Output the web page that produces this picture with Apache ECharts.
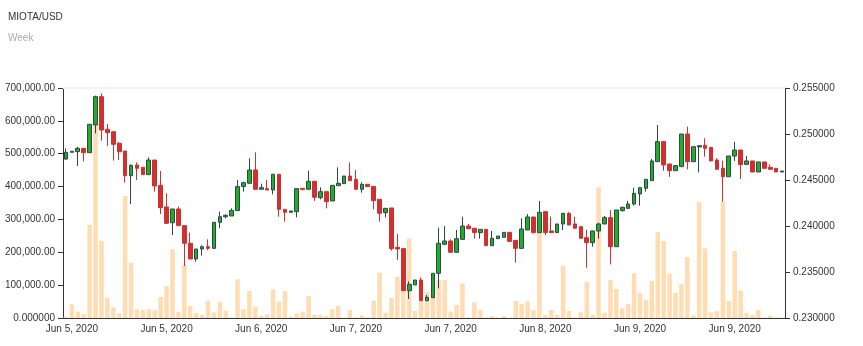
<!DOCTYPE html>
<html>
<head>
<meta charset="utf-8">
<script src="https://cdn.jsdelivr.net/npm/echarts@6/dist/echarts.min.js"></script>
<style>
  html, body { margin: 0; padding: 0; background: #fff; }
  #chart { width: 863px; height: 346px; }
</style>
</head>
<body>
<div id="chart"></div>
<script>
// Hourly MIOTA/USD candles, starting 5 June 2020 00:00 UTC
const startTimeUtc = Date.UTC(2020, 5, 5, 0, 0);
const hourMs = 3600 * 1000;

const openPrices = [
  0.24728, 0.24801, 0.24808, 0.24844, 0.24797, 0.25098, 0.25406, 0.25051, 0.25025, 0.24899,
  0.24815, 0.24547, 0.24663, 0.24638, 0.24558, 0.24717, 0.24442, 0.24207, 0.24036, 0.24185,
  0.24004, 0.23812, 0.23641, 0.23750, 0.23775, 0.23757, 0.24040, 0.24101, 0.24109, 0.24167,
  0.24428, 0.24464, 0.24609, 0.24399, 0.24406, 0.24391, 0.24562, 0.24181, 0.24149, 0.24156,
  0.24409, 0.24399, 0.24486, 0.24308, 0.24373, 0.24272, 0.24438, 0.24460, 0.24543, 0.24507,
  0.24399, 0.24453, 0.24431, 0.24290, 0.24145, 0.24196, 0.23768, 0.23754, 0.23297, 0.23359,
  0.23413, 0.23188, 0.23221, 0.23486, 0.23801, 0.23837, 0.23714, 0.23855, 0.24000, 0.23975,
  0.23928, 0.23964, 0.23786, 0.23862, 0.23877, 0.23931, 0.23844, 0.23757, 0.23957, 0.24098,
  0.23928, 0.24156, 0.23946, 0.23928, 0.24022, 0.24138, 0.24022, 0.23993, 0.23873, 0.23819,
  0.23946, 0.24022, 0.24091, 0.23775, 0.24167, 0.24192, 0.24239, 0.24348, 0.24409, 0.24493,
  0.24699, 0.24917, 0.24674, 0.24601, 0.24645, 0.25000, 0.24699, 0.24859, 0.24877, 0.24855,
  0.24717, 0.24627, 0.24536, 0.24761, 0.24826, 0.24670, 0.24707, 0.24587, 0.24696, 0.24638,
  0.24627, 0.24587
];

const closePrices = [
  0.24801, 0.24812, 0.24844, 0.24797, 0.25105, 0.25406, 0.25043, 0.25014, 0.24888, 0.24808,
  0.24547, 0.24659, 0.24627, 0.24558, 0.24717, 0.24435, 0.24199, 0.24029, 0.24185, 0.24004,
  0.23812, 0.23641, 0.23750, 0.23775, 0.23757, 0.24040, 0.24101, 0.24116, 0.24170, 0.24428,
  0.24471, 0.24609, 0.24399, 0.24417, 0.24391, 0.24562, 0.24181, 0.24149, 0.24163, 0.24406,
  0.24395, 0.24486, 0.24312, 0.24373, 0.24264, 0.24442, 0.24464, 0.24543, 0.24493, 0.24399,
  0.24453, 0.24428, 0.24275, 0.24138, 0.24192, 0.23754, 0.23750, 0.23297, 0.23366, 0.23413,
  0.23188, 0.23225, 0.23486, 0.23812, 0.23837, 0.23714, 0.23862, 0.24000, 0.23971, 0.23928,
  0.23964, 0.23786, 0.23866, 0.23891, 0.23931, 0.23833, 0.23757, 0.23967, 0.24098, 0.23928,
  0.24149, 0.23928, 0.23928, 0.24022, 0.24138, 0.24011, 0.23975, 0.23866, 0.23819, 0.23946,
  0.24022, 0.24091, 0.23775, 0.24174, 0.24203, 0.24239, 0.24355, 0.24417, 0.24507, 0.24707,
  0.24917, 0.24663, 0.24601, 0.24656, 0.25000, 0.24699, 0.24862, 0.24873, 0.24844, 0.24707,
  0.24616, 0.24536, 0.24761, 0.24826, 0.24667, 0.24707, 0.24587, 0.24696, 0.24627, 0.24616,
  0.24587, 0.24598
];

const lowPrices = [
  0.24717, 0.24801, 0.24652, 0.24703, 0.24797, 0.25007, 0.24928, 0.24870, 0.24710, 0.24717,
  0.24471, 0.24239, 0.24500, 0.24558, 0.24558, 0.24373, 0.24130, 0.24022, 0.23902, 0.24004,
  0.23565, 0.23641, 0.23612, 0.23678, 0.23739, 0.23757, 0.23975, 0.24083, 0.24109, 0.24167,
  0.24373, 0.24464, 0.24399, 0.24399, 0.24391, 0.24344, 0.24101, 0.24047, 0.24149, 0.24094,
  0.24395, 0.24399, 0.24272, 0.24290, 0.24192, 0.24272, 0.24438, 0.24460, 0.24493, 0.24399,
  0.24362, 0.24428, 0.24181, 0.24047, 0.24094, 0.23732, 0.23630, 0.23297, 0.23207, 0.23359,
  0.23188, 0.23188, 0.23221, 0.23322, 0.23793, 0.23714, 0.23714, 0.23855, 0.23964, 0.23862,
  0.23862, 0.23786, 0.23786, 0.23862, 0.23877, 0.23833, 0.23601, 0.23757, 0.23957, 0.23920,
  0.23928, 0.23902, 0.23928, 0.23928, 0.23957, 0.24011, 0.23975, 0.23866, 0.23547, 0.23775,
  0.23862, 0.24022, 0.23583, 0.23775, 0.24156, 0.24185, 0.24221, 0.24221, 0.24373, 0.24493,
  0.24699, 0.24601, 0.24533, 0.24601, 0.24645, 0.24616, 0.24699, 0.24583, 0.24754, 0.24707,
  0.24616, 0.24264, 0.24536, 0.24707, 0.24511, 0.24670, 0.24587, 0.24587, 0.24627, 0.24616,
  0.24587, 0.24587
];

const highPrices = [
  0.24844, 0.24812, 0.24862, 0.24844, 0.25105, 0.25417, 0.25442, 0.25109, 0.25025, 0.24913,
  0.24815, 0.24670, 0.24692, 0.24638, 0.24746, 0.24717, 0.24598, 0.24355, 0.24185, 0.24210,
  0.24004, 0.23928, 0.23750, 0.23790, 0.23855, 0.24040, 0.24156, 0.24127, 0.24192, 0.24500,
  0.24482, 0.24736, 0.24801, 0.24460, 0.24500, 0.24562, 0.24562, 0.24181, 0.24163, 0.24406,
  0.24409, 0.24601, 0.24486, 0.24420, 0.24373, 0.24442, 0.24638, 0.24543, 0.24692, 0.24609,
  0.24475, 0.24453, 0.24431, 0.24290, 0.24192, 0.24196, 0.23913, 0.23754, 0.23399, 0.23413,
  0.23442, 0.23250, 0.23486, 0.23982, 0.24000, 0.23855, 0.23957, 0.24101, 0.24022, 0.23975,
  0.23964, 0.23964, 0.23946, 0.23891, 0.23931, 0.23931, 0.23844, 0.24083, 0.24130, 0.24098,
  0.24272, 0.24156, 0.24101, 0.24022, 0.24138, 0.24152, 0.24101, 0.24000, 0.23957, 0.23946,
  0.24036, 0.24109, 0.24174, 0.24174, 0.24210, 0.24272, 0.24417, 0.24417, 0.24507, 0.24728,
  0.25098, 0.24917, 0.24674, 0.24656, 0.25000, 0.25080, 0.24862, 0.24873, 0.24953, 0.24855,
  0.24736, 0.24710, 0.24761, 0.24913, 0.24826, 0.24761, 0.24707, 0.24696, 0.24696, 0.24670,
  0.24627, 0.24598
];

const volumes = [
  4000, 41600, 19300, 11200, 283000, 612800, 234300, 61900, 32500, 14200,
  371300, 168400, 26400, 24300, 26400, 24300, 63900, 97400, 209000, 19300,
  161300, 36500, 15200, 9100, 52800, 17200, 49700, 22300, 2000, 117700,
  26400, 82200, 34500, 6100, 11200, 87200, 49700, 82200, 4100, 14200,
  19300, 67000, 9100, 9100, 7100, 26400, 36500, 1000, 24300, 2000,
  8100, 2000, 52800, 138000, 16200, 60900, 124800, 182600, 242500, 21300,
  51700, 80100, 62900, 115700, 115700, 19300, 39600, 105500, 2000, 47700,
  24300, 2000, 6100, 2000, 6100, 1000, 51700, 42600, 51700, 24300,
  278000, 9100, 24300, 9100, 159300, 21300, 2000, 17200, 109600, 9100,
  397700, 16200, 115700, 88300, 29400, 42600, 135900, 77100, 54800, 112600,
  261700, 234300, 134900, 77100, 103500, 185700, 8100, 353000, 212000, 17200,
  21300, 354100, 51700, 203900, 83200, 16200, 9100, 24300, 2000, 7100,
  2000, 1000
];

// Axis ranges and tick steps
const volumeAxis = { min: 0, max: 700000, interval: 100000 };
const priceAxis = { min: 0.230, max: 0.255, interval: 0.005 };
const labelEvery = 16;   // one date label every 16 hours
const labelOffset = 1;
const tickOffset = 9;

const monthNames = ['Jan', 'Feb', 'Mar', 'Apr', 'May', 'Jun', 'Jul', 'Aug', 'Sep', 'Oct', 'Nov', 'Dec'];

// Category keys: ISO hour stamps, one per candle
const hourStamps = openPrices.map((_, i) => new Date(startTimeUtc + i * hourMs).toISOString());

function formatDay(iso) {
  const d = new Date(iso);
  return monthNames[d.getUTCMonth()] + ' ' + d.getUTCDate() + ', ' + d.getUTCFullYear();
}

const candleData = openPrices.map((o, i) => [o, closePrices[i], lowPrices[i], highPrices[i]]);

const chart = echarts.init(document.getElementById('chart'), null, { renderer: 'canvas' });

const axisColor = '#333';
const fontFamily = '"Liberation Sans", Arial, Helvetica, sans-serif';

chart.setOption({
  animation: false,
  textStyle: { fontFamily: fontFamily },
  title: {
    text: 'MIOTA/USD',
    subtext: 'Week',
    left: 3,
    top: 7,
    itemGap: 11,
    textStyle: { fontSize: 10, fontWeight: 'normal', color: '#333', fontFamily: fontFamily },
    subtextStyle: { fontSize: 10, color: '#aaa', fontFamily: fontFamily }
  },
  grid: { left: 63, right: 78, top: 88, bottom: 28 },
  xAxis: [
    {
      type: 'category',
      data: hourStamps,
      boundaryGap: true,
      axisLine: { lineStyle: { color: axisColor, width: 1 } },
      axisTick: {
        alignWithLabel: true,
        interval: (index) => index % labelEvery === tickOffset,
        lineStyle: { color: axisColor }
      },
      axisLabel: {
        interval: (index) => index % labelEvery === labelOffset,
        formatter: (value) => formatDay(value),
        color: '#333',
        fontSize: 10,
        margin: 6
      },
      splitLine: { show: false }
    },
    {
      type: 'category',
      data: hourStamps,
      position: 'top',
      axisLine: { lineStyle: { color: '#fdf0e8', width: 2 } },
      axisTick: { show: false },
      axisLabel: { show: false },
      splitLine: { show: false }
    }
  ],
  yAxis: [
    {
      type: 'value',
      position: 'left',
      min: volumeAxis.min,
      max: volumeAxis.max,
      interval: volumeAxis.interval,
      axisLine: { show: true, lineStyle: { color: axisColor } },
      axisTick: { show: true, lineStyle: { color: axisColor } },
      axisLabel: {
        color: '#333',
        fontSize: 10,
        formatter: (v) => v === 0 ? '0.000000'
          : v.toLocaleString('en-US', { minimumFractionDigits: 2, maximumFractionDigits: 2 })
      },
      splitLine: { show: false }
    },
    {
      type: 'value',
      position: 'right',
      min: priceAxis.min,
      max: priceAxis.max,
      interval: priceAxis.interval,
      axisLine: { show: true, lineStyle: { color: axisColor } },
      axisTick: { show: true, lineStyle: { color: axisColor } },
      axisLabel: {
        color: '#333',
        fontSize: 10,
        formatter: (v) => v.toFixed(6)
      },
      splitLine: { show: false }
    }
  ],
  series: [
    {
      name: 'Volume',
      type: 'bar',
      xAxisIndex: 0,
      yAxisIndex: 0,
      data: volumes,
      barWidth: '76%',
      itemStyle: { color: '#ffdcb2' },
      z: 1
    },
    {
      name: 'MIOTA/USD',
      type: 'candlestick',
      xAxisIndex: 0,
      yAxisIndex: 1,
      data: candleData,
      barWidth: '70%',
      itemStyle: {
        color: '#1fb01f',
        color0: '#d0312f',
        borderColor: '#2f4554',
        borderColor0: '#d0312f',
        borderWidth: 1
      },
      z: 3
    }
  ]
});
</script>
</body>
</html>
